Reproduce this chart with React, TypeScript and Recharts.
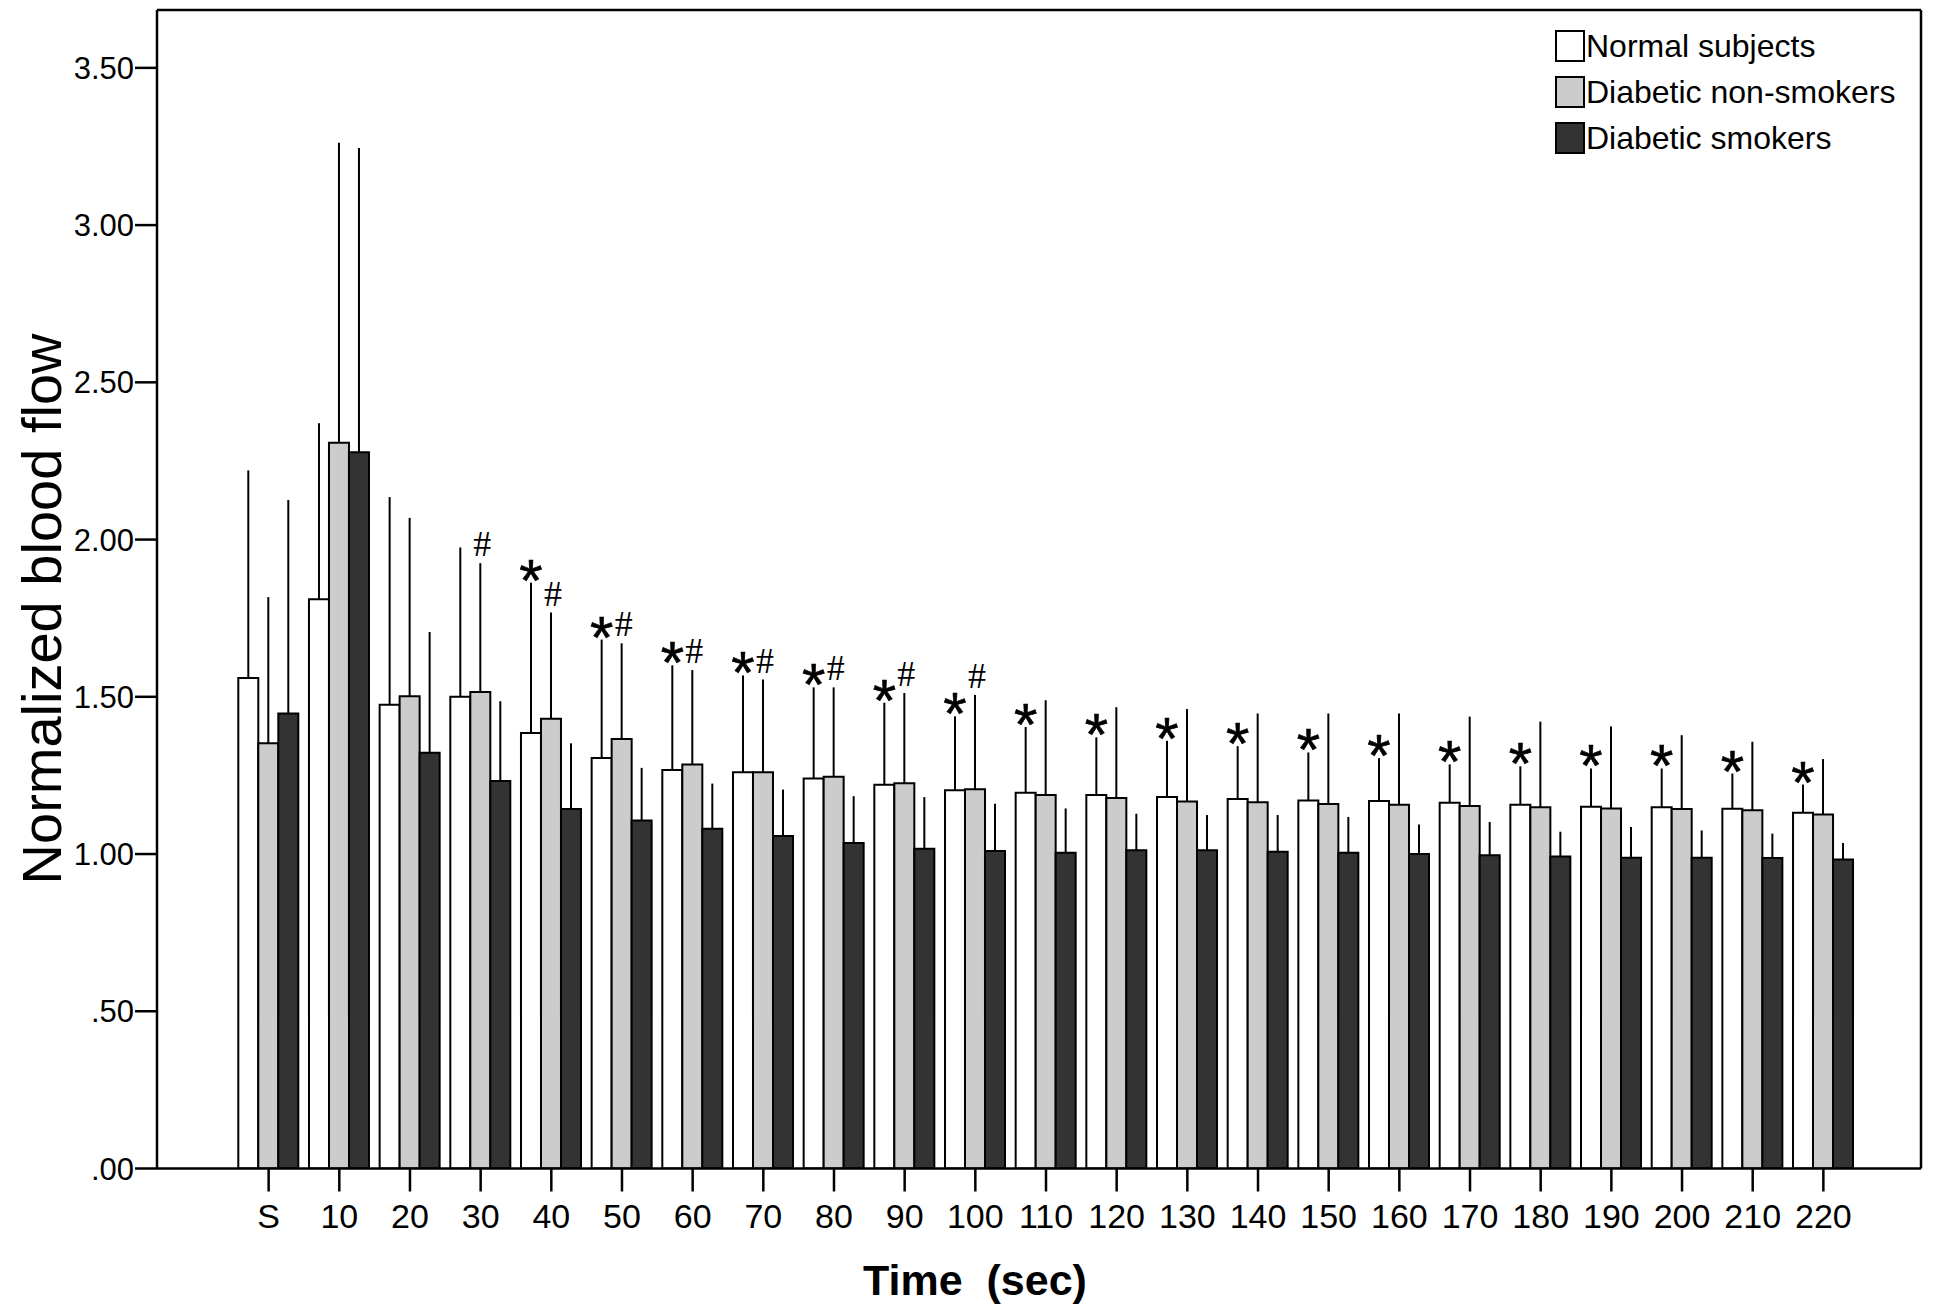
import React from 'react';
import { BarChart, Bar, XAxis, YAxis, ErrorBar, LabelList, Legend, Label } from 'recharts';

const times = ['S', '10', '20', '30', '40', '50', '60', '70', '80', '90', '100', '110', '120', '130', '140', '150', '160', '170', '180', '190', '200', '210', '220'];

const normalMean = [1.56, 1.81, 1.475, 1.5, 1.385, 1.305, 1.267, 1.26, 1.24, 1.22, 1.203, 1.195, 1.188, 1.181, 1.175, 1.17, 1.169, 1.163, 1.157, 1.15, 1.149, 1.144, 1.131];
const normalSD = [0.66, 0.56, 0.66, 0.475, 0.478, 0.377, 0.333, 0.308, 0.29, 0.261, 0.235, 0.209, 0.183, 0.179, 0.168, 0.153, 0.136, 0.122, 0.122, 0.122, 0.123, 0.112, 0.09];

const nonSmokerMean = [1.352, 2.308, 1.502, 1.515, 1.43, 1.366, 1.285, 1.26, 1.246, 1.225, 1.206, 1.188, 1.178, 1.167, 1.165, 1.159, 1.157, 1.153, 1.149, 1.145, 1.143, 1.139, 1.126];
const nonSmokerSD = [0.465, 0.954, 0.567, 0.41, 0.338, 0.304, 0.3, 0.295, 0.284, 0.287, 0.3, 0.301, 0.289, 0.294, 0.282, 0.288, 0.29, 0.284, 0.272, 0.261, 0.235, 0.218, 0.176];

const smokerMean = [1.447, 2.278, 1.322, 1.232, 1.143, 1.107, 1.08, 1.057, 1.035, 1.017, 1.01, 1.004, 1.012, 1.012, 1.007, 1.004, 1.0, 0.996, 0.992, 0.988, 0.988, 0.987, 0.983];
const smokerSD = [0.679, 0.967, 0.384, 0.254, 0.209, 0.167, 0.144, 0.148, 0.149, 0.164, 0.15, 0.141, 0.116, 0.112, 0.117, 0.114, 0.094, 0.106, 0.079, 0.098, 0.087, 0.078, 0.052];

const normalMarks = ['', '', '', '', '*', '*', '*', '*', '*', '*', '*', '*', '*', '*', '*', '*', '*', '*', '*', '*', '*', '*', '*'];
const nonSmokerMarks = ['', '', '', '#', '#', '#', '#', '#', '#', '#', '#', '', '', '', '', '', '', '', '', '', '', '', ''];

const yTicks = [0, 0.5, 1, 1.5, 2, 2.5, 3, 3.5];

const seriesInfo = [
  { key: 'normal', name: 'Normal subjects', fill: '#ffffff' },
  { key: 'nonSmoker', name: 'Diabetic non-smokers', fill: '#cccccc' },
  { key: 'smoker', name: 'Diabetic smokers', fill: '#333333' },
];

const data = times.map((t, i) => ({
  time: t,
  normal: normalMean[i],
  normalErr: [0, normalSD[i]],
  normalMark: normalMarks[i],
  nonSmoker: nonSmokerMean[i],
  nonSmokerErr: [0, nonSmokerSD[i]],
  nonSmokerMark: nonSmokerMarks[i],
  smoker: smokerMean[i],
  smokerErr: [0, smokerSD[i]],
}));

const SANS = '"Liberation Sans", Arial, sans-serif';
const SERIF = '"Liberation Serif", "Times New Roman", serif';

const makeMarkRenderer = (means: number[], sds: number[], marks: string[]) => (props: any) => {
  const idx = props.index;
  const m = marks[idx];
  if (!m) return null;
  const vb = props.viewBox || {};
  const x = Number(vb.x ?? props.x);
  const y = Number(vb.y ?? props.y);
  const w = Number(vb.width ?? props.width);
  const h = Number(vb.height ?? props.height);
  const pxPerUnit = h / means[idx];
  const top = y - sds[idx] * pxPerUnit;
  const cx = x + w / 2;
  if (m === '*') {
    return (
      <text x={cx} y={top + 18} textAnchor="middle" fontFamily={SANS} fontSize={60} fill="#000" stroke="#000" strokeWidth={0.6}>
        *
      </text>
    );
  }
  return (
    <text x={cx + 2} y={top - 7} textAnchor="middle" fontFamily={SERIF} fontSize={36} fill="#000">
      #
    </text>
  );
};

const LegendContent = () => (
  <div style={{ fontFamily: SANS, fontSize: 32, color: '#000' }}>
    {seriesInfo.map((s) => (
      <div key={s.key} style={{ display: 'flex', alignItems: 'center', height: 46 }}>
        <div
          style={{
            width: 26,
            height: 28,
            background: s.fill,
            border: '2px solid #000',
            marginRight: 1,
          }}
        />
        <span style={{ lineHeight: '46px' }}>{s.name}</span>
      </div>
    ))}
  </div>
);

const fmt = (v: number) => v.toFixed(2).replace(/^0/, '');

export default function App() {
  return (
    <BarChart
      width={1940}
      height={1306}
      data={data}
      margin={{ top: 1, right: 26, left: 0, bottom: 0 }}
      barGap={0}
      barSize={20}
    >
      <XAxis
        dataKey="time"
        xAxisId={0}
        height={145.5}
        padding={{ left: 76.3, right: 62.3 }}
        axisLine={{ stroke: '#000', strokeWidth: 2.5 }}
        tickLine={{ stroke: '#000', strokeWidth: 2.5 }}
        tickSize={23}
        tickMargin={12}
        tick={{ fontFamily: SANS, fontSize: 34, fill: '#000' }}
        interval={0}
      >
        <Label
          content={() => (
            <text
              x={967}
              y={1287}
              textAnchor="middle"
              fontFamily={SANS}
              fontWeight="bold"
              fontSize={43}
              fill="#000"
              style={{ whiteSpace: 'pre' }}
            >
              {'Time  (sec)'}
            </text>
          )}
        />
      </XAxis>
      <XAxis
        dataKey="time"
        xAxisId="top"
        orientation="top"
        height={1}
        tick={false}
        tickLine={false}
        axisLine={{ stroke: '#000', strokeWidth: 2.5 }}
      />
      <YAxis
        yAxisId={0}
        width={149}
        domain={[0, 3.684]}
        ticks={yTicks}
        tickFormatter={fmt}
        axisLine={{ stroke: '#000', strokeWidth: 2.5 }}
        tickLine={{ stroke: '#000', strokeWidth: 2.5 }}
        tickSize={22}
        tickMargin={1}
        tick={{ fontFamily: SANS, fontSize: 31, fill: '#000' }}
        allowDataOverflow
      >
        <Label
          content={() => (
            <text
              x={53}
              y={601}
              transform="rotate(-90, 53, 601)"
              textAnchor="middle"
              fontFamily={SANS}
              fontSize={56}
              fill="#000"
            >
              Normalized blood flow
            </text>
          )}
        />
      </YAxis>
      <YAxis
        yAxisId="right"
        orientation="right"
        width={1}
        domain={[0, 3.684]}
        tick={false}
        tickLine={false}
        axisLine={{ stroke: '#000', strokeWidth: 2.5 }}
      />
      <Legend
        layout="horizontal"
        verticalAlign="middle"
        align="center"
        content={<LegendContent />}
        wrapperStyle={{ position: 'absolute', left: 1547, top: 15, width: 380, height: 140 }}
      />
      <Bar dataKey="normal" name="Normal subjects" fill="#ffffff" stroke="#000" strokeWidth={2} isAnimationActive={false}>
        <ErrorBar dataKey="normalErr" width={0} stroke="#000" strokeWidth={2} direction="y" />
        <LabelList dataKey="normalMark" content={makeMarkRenderer(normalMean, normalSD, normalMarks)} />
      </Bar>
      <Bar dataKey="nonSmoker" name="Diabetic non-smokers" fill="#cccccc" stroke="#000" strokeWidth={2} isAnimationActive={false}>
        <ErrorBar dataKey="nonSmokerErr" width={0} stroke="#000" strokeWidth={2} direction="y" />
        <LabelList dataKey="nonSmokerMark" content={makeMarkRenderer(nonSmokerMean, nonSmokerSD, nonSmokerMarks)} />
      </Bar>
      <Bar dataKey="smoker" name="Diabetic smokers" fill="#333333" stroke="#000" strokeWidth={2} isAnimationActive={false}>
        <ErrorBar dataKey="smokerErr" width={0} stroke="#000" strokeWidth={2} direction="y" />
      </Bar>
    </BarChart>
  );
}
